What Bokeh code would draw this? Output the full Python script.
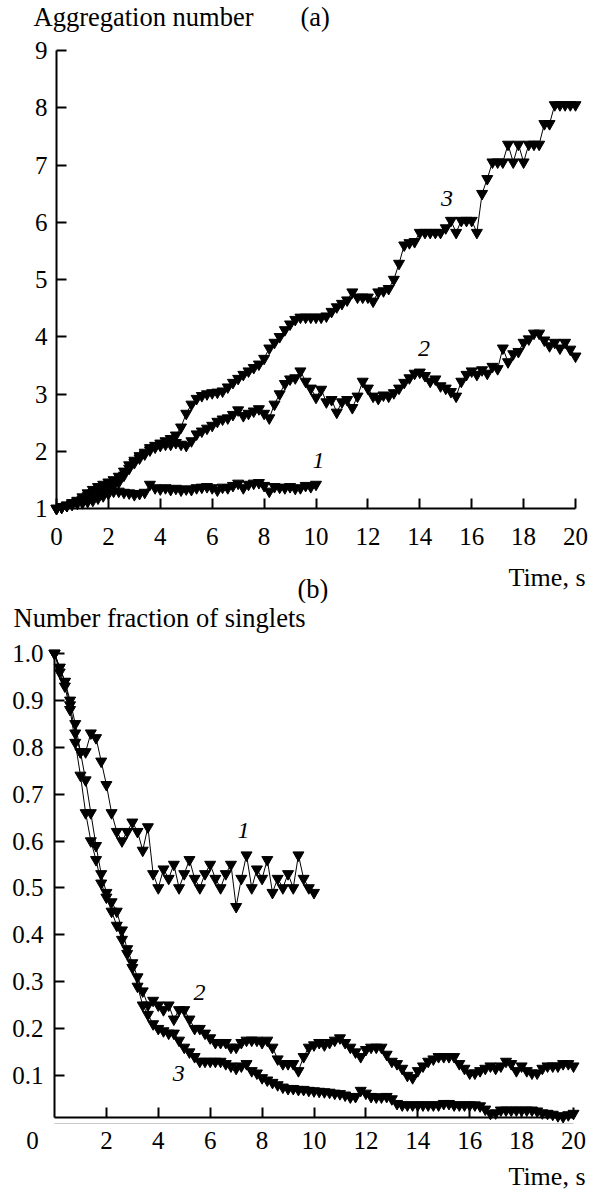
from bokeh.plotting import figure
from bokeh.layouts import column
from bokeh.models import Range1d, FixedTicker, Label, PrintfTickFormatter, LinearAxis
from bokeh.embed import file_html
from bokeh.resources import INLINE

FONT = "Liberation Serif"

# ---------------- data ----------------
time_20 = [round(0.2 * i, 1) for i in range(101)]
time_10 = [round(0.2 * i, 1) for i in range(51)]

# (a) aggregation number
agg_1 = [1.00, 1.02, 1.05, 1.07, 1.09, 1.10, 1.12, 1.14, 1.18, 1.22,
         1.26, 1.30, 1.30, 1.28, 1.27, 1.24, 1.26, 1.28, 1.42, 1.36,
         1.34, 1.36, 1.33, 1.35, 1.32, 1.34, 1.33, 1.36, 1.37, 1.38,
         1.36, 1.32, 1.37, 1.36, 1.40, 1.44, 1.36, 1.42, 1.44, 1.45,
         1.40, 1.30, 1.38, 1.37, 1.36, 1.38, 1.35, 1.36, 1.40, 1.38,
         1.42]
agg_2 = [1.00, 1.02, 1.05, 1.08, 1.12, 1.16, 1.22, 1.27, 1.30, 1.33,
         1.36, 1.40, 1.46, 1.58, 1.70, 1.80, 1.88, 1.95, 2.02, 2.07,
         2.10, 2.12, 2.12, 2.15, 2.12, 2.10, 2.18, 2.30, 2.35, 2.40,
         2.45, 2.52, 2.56, 2.58, 2.64, 2.72, 2.62, 2.66, 2.70, 2.74,
         2.66, 2.58, 2.82, 3.00, 3.18, 3.26, 3.28, 3.40, 3.22, 3.10,
         2.94, 3.08, 2.86, 2.90, 2.68, 2.86, 2.90, 2.76, 2.96, 3.22,
         3.10, 2.96, 2.92, 2.98, 2.96, 3.02, 3.10, 3.20, 3.28, 3.36,
         3.38, 3.32, 3.22, 3.26, 3.14, 3.10, 3.04, 2.96, 3.22, 3.34,
         3.40, 3.34, 3.42, 3.36, 3.48, 3.44, 3.80, 3.56, 3.70, 3.74,
         3.90, 3.96, 4.06, 4.06, 3.94, 3.84, 3.90, 3.80, 3.90, 3.78,
         3.66]
agg_3 = [1.00, 1.03, 1.06, 1.10, 1.14, 1.20, 1.27, 1.33, 1.38, 1.42,
         1.46, 1.50, 1.56, 1.65, 1.76, 1.84, 1.92, 1.98, 2.06, 2.10,
         2.14, 2.18, 2.22, 2.28, 2.42, 2.66, 2.82, 2.92, 2.97, 3.00,
         3.02, 3.03, 3.05, 3.12, 3.20, 3.27, 3.34, 3.40, 3.46, 3.52,
         3.62, 3.80, 3.90, 4.00, 4.12, 4.22, 4.30, 4.34, 4.34, 4.34,
         4.34, 4.34, 4.36, 4.44, 4.52, 4.58, 4.64, 4.78, 4.69, 4.69,
         4.69, 4.62, 4.78, 4.80, 4.84, 5.00, 5.28, 5.60, 5.64, 5.66,
         5.82, 5.82, 5.82, 5.82, 5.82, 5.90, 6.03, 5.82, 6.03, 6.03,
         6.03, 5.82, 6.50, 6.76, 7.05, 7.05, 7.05, 7.36, 7.05, 7.36,
         7.05, 7.36, 7.36, 7.36, 7.72, 7.72, 8.05, 8.05, 8.05, 8.05,
         8.05]

# (b) number fraction of singlets
sing_1 = [1.00, 0.97, 0.94, 0.89, 0.83, 0.79, 0.79, 0.83, 0.82, 0.77,
          0.72, 0.66, 0.62, 0.60, 0.62, 0.64, 0.62, 0.58, 0.63, 0.53,
          0.50, 0.54, 0.52, 0.55, 0.50, 0.53, 0.56, 0.52, 0.50, 0.53,
          0.55, 0.52, 0.50, 0.53, 0.55, 0.46, 0.52, 0.57, 0.50, 0.54,
          0.52, 0.56, 0.49, 0.52, 0.50, 0.53, 0.50, 0.57, 0.52, 0.50,
          0.49]
sing_2 = [1.00, 0.97, 0.94, 0.90, 0.85, 0.79, 0.73, 0.66, 0.59, 0.53,
          0.49, 0.47, 0.45, 0.41, 0.37, 0.34, 0.31, 0.28, 0.25, 0.26,
          0.25, 0.24, 0.25, 0.22, 0.24, 0.24, 0.22, 0.20, 0.20, 0.19,
          0.18, 0.17, 0.17, 0.17, 0.16, 0.16, 0.17, 0.175, 0.175, 0.175,
          0.17, 0.175, 0.16, 0.135, 0.125, 0.125, 0.125, 0.11, 0.14, 0.16,
          0.165, 0.17, 0.165, 0.17, 0.175, 0.18, 0.17, 0.16, 0.15, 0.14,
          0.155, 0.16, 0.16, 0.16, 0.145, 0.13, 0.125, 0.115, 0.10, 0.095,
          0.11, 0.12, 0.13, 0.135, 0.14, 0.14, 0.14, 0.14, 0.125, 0.115,
          0.105, 0.105, 0.11, 0.115, 0.12, 0.115, 0.12, 0.13, 0.125, 0.11,
          0.12, 0.11, 0.105, 0.105, 0.115, 0.12, 0.12, 0.12, 0.125, 0.125,
          0.12]
sing_3 = [1.00, 0.96, 0.93, 0.88, 0.81, 0.74, 0.66, 0.60, 0.56, 0.51,
          0.48, 0.45, 0.42, 0.39, 0.36, 0.33, 0.29, 0.25, 0.23, 0.21,
          0.20, 0.195, 0.19, 0.19, 0.175, 0.16, 0.15, 0.14, 0.13, 0.13,
          0.13, 0.13, 0.13, 0.125, 0.12, 0.115, 0.12, 0.125, 0.11, 0.105,
          0.095, 0.09, 0.085, 0.08, 0.075, 0.072, 0.072, 0.07, 0.07, 0.068,
          0.067, 0.066, 0.065, 0.064, 0.062, 0.061, 0.058, 0.054, 0.055, 0.068,
          0.062, 0.055, 0.054, 0.054, 0.055, 0.05, 0.04, 0.037, 0.037, 0.037,
          0.037, 0.037, 0.037, 0.037, 0.037, 0.04, 0.04, 0.037, 0.037, 0.037,
          0.037, 0.037, 0.035, 0.028, 0.019, 0.02, 0.026, 0.026, 0.026, 0.026,
          0.026, 0.026, 0.026, 0.024, 0.02, 0.019, 0.017, 0.014, 0.012, 0.016,
          0.019]

agg_x_ticks = [0, 2, 4, 6, 8, 10, 12, 14, 16, 18, 20]
agg_y_ticks = [1, 2, 3, 4, 5, 6, 7, 8, 9]
sing_x_ticks = [2, 4, 6, 8, 10, 12, 14, 16, 18, 20]
sing_y_ticks = [0.1, 0.2, 0.3, 0.4, 0.5, 0.6, 0.7, 0.8, 0.9, 1.0]

W = 590
HA, HB = 603, 587


def ranges(width, height, x0_px, x_scale, y_ref, y_ref_px, y_scale):
    """Full-canvas frame: map pixel geometry to data ranges."""
    xr = Range1d(-x0_px / x_scale, (width - x0_px) / x_scale)
    yr = Range1d(y_ref - (height - y_ref_px) / y_scale, y_ref + y_ref_px / y_scale)
    return xr, yr


def style(p, xticks, yticks, xbounds, ybounds, x_loc, y_loc, x_standoff, y_standoff, size):
    p.grid.visible = False
    p.outline_line_color = None
    p.background_fill_color = "white"
    p.border_fill_color = "white"
    for ax in (p.xaxis[0], p.yaxis[0]):
        ax.axis_line_width = 2
        ax.axis_line_color = "black"
        ax.major_tick_line_width = 2
        ax.major_tick_line_color = "black"
        ax.major_tick_in = 10
        ax.major_tick_out = 0
        ax.minor_tick_line_color = None
        ax.major_label_text_font = FONT
        ax.major_label_text_font_size = size
        ax.major_label_text_color = "black"
    p.xaxis[0].ticker = FixedTicker(ticks=xticks)
    p.yaxis[0].ticker = FixedTicker(ticks=yticks)
    p.xaxis[0].bounds = xbounds
    p.yaxis[0].bounds = ybounds
    p.xaxis[0].fixed_location = x_loc
    p.yaxis[0].fixed_location = y_loc
    p.xaxis[0].major_label_standoff = x_standoff
    p.yaxis[0].major_label_standoff = y_standoff


def series(p, t, v):
    p.line(t, v, line_color="black", line_width=1)
    p.scatter(t, v, marker="inverted_triangle", size=11,
              fill_color="black", line_color="black", line_width=1)


def text(p, s, x, y, dx=0, dy=0, align="left", style_="normal", size="26px"):
    p.add_layout(Label(x=x, y=y, x_offset=dx, y_offset=dy, text=s,
                       text_font=FONT, text_font_size=size, text_color="black",
                       text_align=align, text_baseline="middle",
                       text_font_style=style_))


# ---------------- panel (a) ----------------
xa, ya = ranges(W, HA, 56, 25.95, 1.0, 508, 57.25)
pa = figure(width=W, height=HA, x_range=xa, y_range=ya,
            output_backend="svg", toolbar_location=None, min_border=0,
            min_border_left=0, min_border_right=0, min_border_top=0, min_border_bottom=0)
style(pa, agg_x_ticks, agg_y_ticks, (0, 20), (1, 9), 1, 0, 19, 9, "25px")
series(pa, time_10, agg_1)
series(pa, time_20, agg_2)
series(pa, time_20, agg_3)
text(pa, "Aggregation number", 0, 9, dx=-23, dy=34, size="26.5px")
text(pa, "(a)", 0, 9, dx=244, dy=34, size="26.5px")
text(pa, "Time, s", 20, 1, dx=10, dy=-69, align="right")
text(pa, "(b)", 0, 1, dx=241, dy=-80, size="26.5px")
text(pa, "1", 10.1, 1.84, align="center", style_="italic", size="24px")
text(pa, "2", 14.16, 3.79, align="center", style_="italic", size="24px")
text(pa, "3", 15.05, 6.41, align="center", style_="italic", size="24px")

# ---------------- panel (b) ----------------
xb, yb = ranges(W, HB, 54, 25.95, 0.1, 1075 - HA, 469.0)
pb = figure(width=W, height=HB, x_range=xb, y_range=yb,
            output_backend="svg", toolbar_location=None, min_border=0,
            min_border_left=0, min_border_right=0, min_border_top=0, min_border_bottom=0)
style(pb, sing_x_ticks, sing_y_ticks, (0, 20), (0.01, 1.0), 0.01, 0, 14, 11, "25px")
pb.yaxis[0].formatter = PrintfTickFormatter(format="%.1f")
# faint grey rule just under the time axis, as in the printed figure
rule = LinearAxis(fixed_location=-0.003, bounds=(0, 20), axis_line_color="#c8c8c8",
                  axis_line_width=1, major_tick_line_color=None, minor_tick_line_color=None,
                  major_label_text_font_size="0px", ticker=FixedTicker(ticks=[]))
pb.add_layout(rule, "below")
series(pb, time_10, sing_1)
series(pb, time_20, sing_2)
series(pb, time_20, sing_3)
text(pb, "Number fraction of singlets", 0, 1.0, dx=-41, dy=35, size="26.5px")
text(pb, "Time, s", 20, 0.01, dx=12, dy=-59, align="right")
text(pb, "0", 0, 0.01, dx=-22, dy=-23, align="center", size="25px")
text(pb, "1", 7.28, 0.622, align="center", style_="italic", size="24px")
text(pb, "2", 5.59, 0.276, align="center", style_="italic", size="24px")
text(pb, "3", 4.79, 0.105, align="center", style_="italic", size="24px")

layout = column(pa, pb, spacing=0)
open("out.html", "w").write(file_html(layout, INLINE))
